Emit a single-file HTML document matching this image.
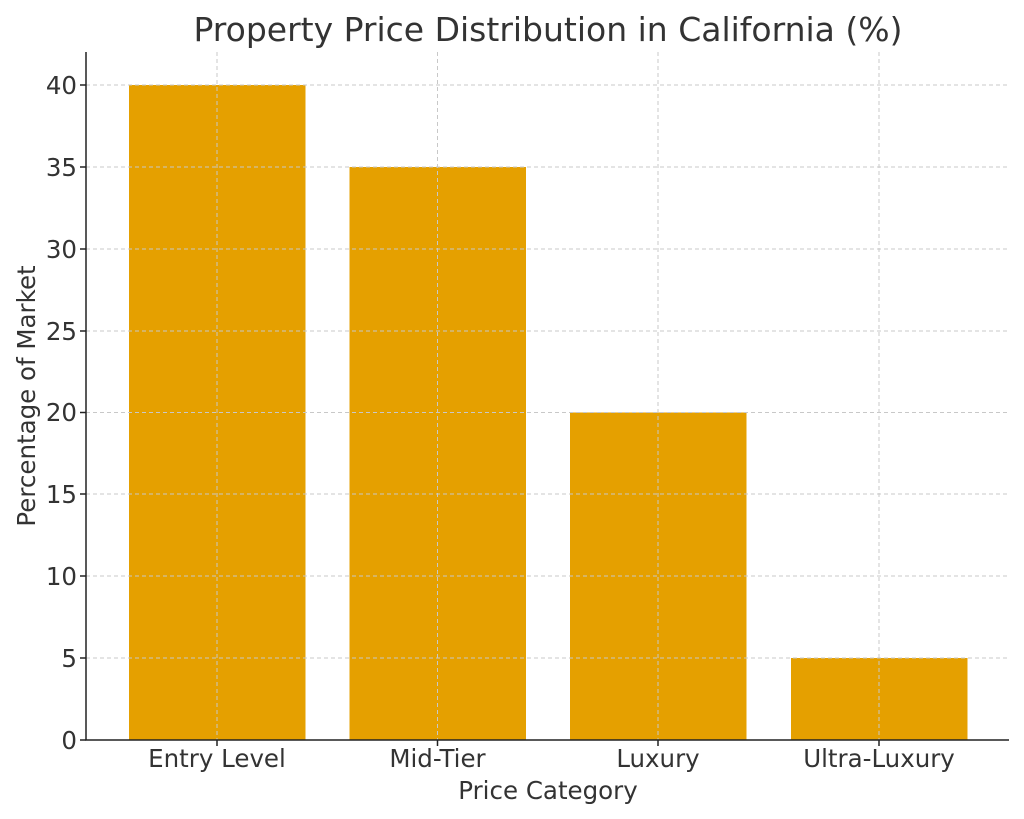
<!DOCTYPE html>
<html><head><meta charset="utf-8"><style>
html,body{margin:0;padding:0;background:#fff;}
svg{display:block;}
text{font-family:"DejaVu Sans","Liberation Sans",sans-serif;fill:#333;}
</style></head><body>
<svg width="1024" height="819" viewBox="0 0 1024 819" xmlns="http://www.w3.org/2000/svg">
<rect width="1024" height="819" fill="#fff"/>
<g fill="#E5A000">
<rect x="129" y="85" width="176.5" height="655"/>
<rect x="349.5" y="167" width="176.5" height="573"/>
<rect x="570" y="412.5" width="176.5" height="327.5"/>
<rect x="791" y="658" width="176.5" height="82"/>
</g>
<g stroke="#c8c8c8" stroke-width="1" stroke-dasharray="4,3">
<line x1="86" x2="1009" y1="85" y2="85"/>
<line x1="86" x2="1009" y1="167" y2="167"/>
<line x1="86" x2="1009" y1="249" y2="249"/>
<line x1="86" x2="1009" y1="331" y2="331"/>
<line x1="86" x2="1009" y1="412.5" y2="412.5"/>
<line x1="86" x2="1009" y1="494" y2="494"/>
<line x1="86" x2="1009" y1="576" y2="576"/>
<line x1="86" x2="1009" y1="658" y2="658"/>
<line x1="217" x2="217" y1="52" y2="740"/>
<line x1="437.5" x2="437.5" y1="52" y2="740"/>
<line x1="658" x2="658" y1="52" y2="740"/>
<line x1="879" x2="879" y1="52" y2="740"/>
</g>
<g stroke="#222" stroke-width="1.5">
<line x1="86" x2="86" y1="52" y2="740.5"/>
<line x1="85.3" x2="1009" y1="740" y2="740"/>
<line x1="80" x2="86" y1="85" y2="85"/><line x1="80" x2="86" y1="167" y2="167"/>
<line x1="80" x2="86" y1="249" y2="249"/><line x1="80" x2="86" y1="331" y2="331"/>
<line x1="80" x2="86" y1="412.5" y2="412.5"/><line x1="80" x2="86" y1="494" y2="494"/>
<line x1="80" x2="86" y1="576" y2="576"/><line x1="80" x2="86" y1="658" y2="658"/>
<line x1="80" x2="86" y1="740" y2="740"/>
<line x1="217" x2="217" y1="740" y2="746"/><line x1="437.5" x2="437.5" y1="740" y2="746"/>
<line x1="658" x2="658" y1="740" y2="746"/><line x1="879" x2="879" y1="740" y2="746"/>
</g>
<g font-size="24.5" text-anchor="end">
<text x="77" y="94">40</text><text x="77" y="176">35</text><text x="77" y="258">30</text>
<text x="77" y="340">25</text><text x="77" y="421">20</text><text x="77" y="503">15</text>
<text x="77" y="585">10</text><text x="77" y="667">5</text><text x="77" y="749">0</text>
</g>
<g font-size="24.5" text-anchor="middle">
<text x="217" y="767">Entry Level</text><text x="437.5" y="767">Mid-Tier</text>
<text x="658" y="767">Luxury</text><text x="879" y="767">Ultra-Luxury</text>
<text x="548" y="799">Price Category</text>
<text transform="translate(35,396) rotate(-90)">Percentage of Market</text>
</g>
<text x="548" y="41" font-size="33" text-anchor="middle">Property Price Distribution in California (%)</text>
</svg>
</body></html>
